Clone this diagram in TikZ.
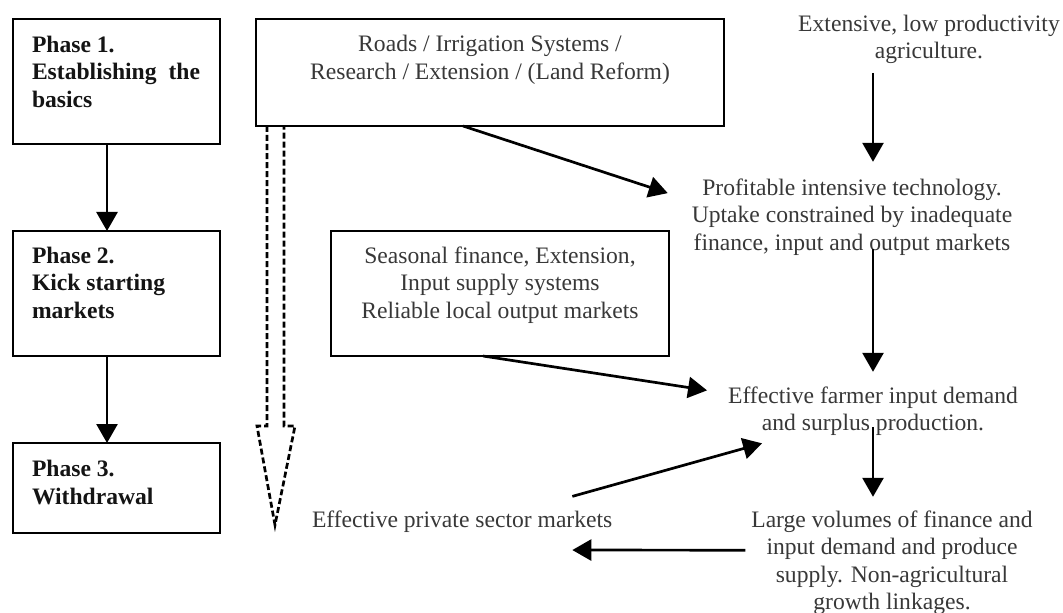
\documentclass[tikz,border=0pt]{standalone}
\usepackage{fontspec}
\setmainfont{Liberation Serif}
\usetikzlibrary{arrows.meta,calc}
\definecolor{txt}{rgb}{0.22,0.22,0.22}
\definecolor{btxt}{rgb}{0.08,0.08,0.08}
\tikzset{
  frame/.style={draw=black, line width=2.9bp, inner sep=0pt, outer sep=0pt, anchor=north west},
  plain/.style={inner sep=0pt, outer sep=0pt, text=txt, font=\fontsize{23.6bp}{27.5bp}\selectfont, align=center},
  phasetxt/.style={inner sep=0pt, outer sep=0pt, text=btxt, font=\fontsize{23.6bp}{27.5bp}\selectfont\bfseries, align=left, anchor=north west},
  arr/.style={line width=2.7bp, -{Triangle[length=19bp,width=21bp]}},
  hollow/.style={line width=2.7bp, dash pattern=on 6bp off 3bp, line join=miter}
}
\begin{document}
\begin{tikzpicture}[x=1bp,y=-1bp]
\path[use as bounding box, fill=white] (0,0) rectangle (1063,613);

% boxes
\node[frame, minimum width=207bp, minimum height=125bp] (p1) at (13,19) {};
\node[frame, minimum width=207bp, minimum height=125bp] (p2) at (13,231) {};
\node[frame, minimum width=207bp, minimum height=90bp] (p3) at (13,443) {};
\node[frame, minimum width=468bp, minimum height=107bp] (roads) at (256,19) {};
\node[frame, minimum width=338bp, minimum height=125bp] (seas) at (331,231) {};

% phase texts
\node[phasetxt] (p1t) at (32,36) {Phase 1.\\\makebox[168bp][s]{Establishing the}\\basics};
\node[phasetxt] (p2t) at (32,247) {Phase 2.\\Kick starting\\markets};
\node[phasetxt] (p3t) at (32,460.5) {Phase 3.\\Withdrawal};

% other texts
\node[plain, anchor=north] (roadst) at (490,35.6) {Roads / Irrigation Systems /\\Research / Extension / (Land Reform)};
\node[plain, anchor=north] (seast) at (500,246.8) {Seasonal finance, Extension,\\Input supply systems\\Reliable local output markets};
\node[plain, anchor=north] (ext) at (929,14.8) {Extensive, low productivity\\agriculture.};
\node[plain, anchor=north] (prof) at (852,178.8) {Profitable intensive technology.\\Uptake constrained by inadequate\\finance, input and output markets};
\node[plain, anchor=north] (farmer) at (873,386.8) {Effective farmer input demand\\and surplus production.};
\node[plain, anchor=north] (large) at (892,510.8) {Large volumes of finance and\\input demand and produce\\supply. Non-agricultural\\growth linkages.};
\node[plain, anchor=base west] (priv) at (312,527) {Effective private sector markets};

% phase arrows
\draw[arr] ($(p1.south)+(-9.5,0)$) -- ($(p2.north)+(-9.5,0)$);
\draw[arr] ($(p2.south)+(-9.5,0)$) -- ($(p3.north)+(-9.5,0)$);

% right column arrows
\draw[arr] ($(ext.south -| farmer.north)+(0,9)$) -- ($(prof.north -| farmer.north)+(0,-17)$);
\draw[arr] ($(prof.south -| farmer.north)+(0,-6)$) -- ($(farmer.north)+(0,-15)$);
\draw[arr] ($(farmer.south)+(0,-9)$) -- ($(large.north -| farmer.south)+(0,-14)$);

% slanted arrows
\draw[arr] ($(roads.south west)+(207,0)$) -- ($(prof.west)+(-24,-24)$);
\draw[arr] ($(seas.south)+(-17,0)$) -- ($(farmer.west)+(-21,-21)$);
\draw[arr] ($(priv.north east)+(-40,-14)$) -- ($(farmer.south west)+(34,7.4)$);
\draw[arr] ($(large.west)+(-6,-12.7)$) -- ($(priv.south east)+(-40,18)$);

% hollow dashed arrow
\draw[hollow] ($(roads.south west)+(11,0)$) -- ++(0,300) -- ++(-10,0) -- ++(18,99) -- ++(20,-99) -- ++(-11,0) -- ++(0,-300);
\end{tikzpicture}
\end{document}
